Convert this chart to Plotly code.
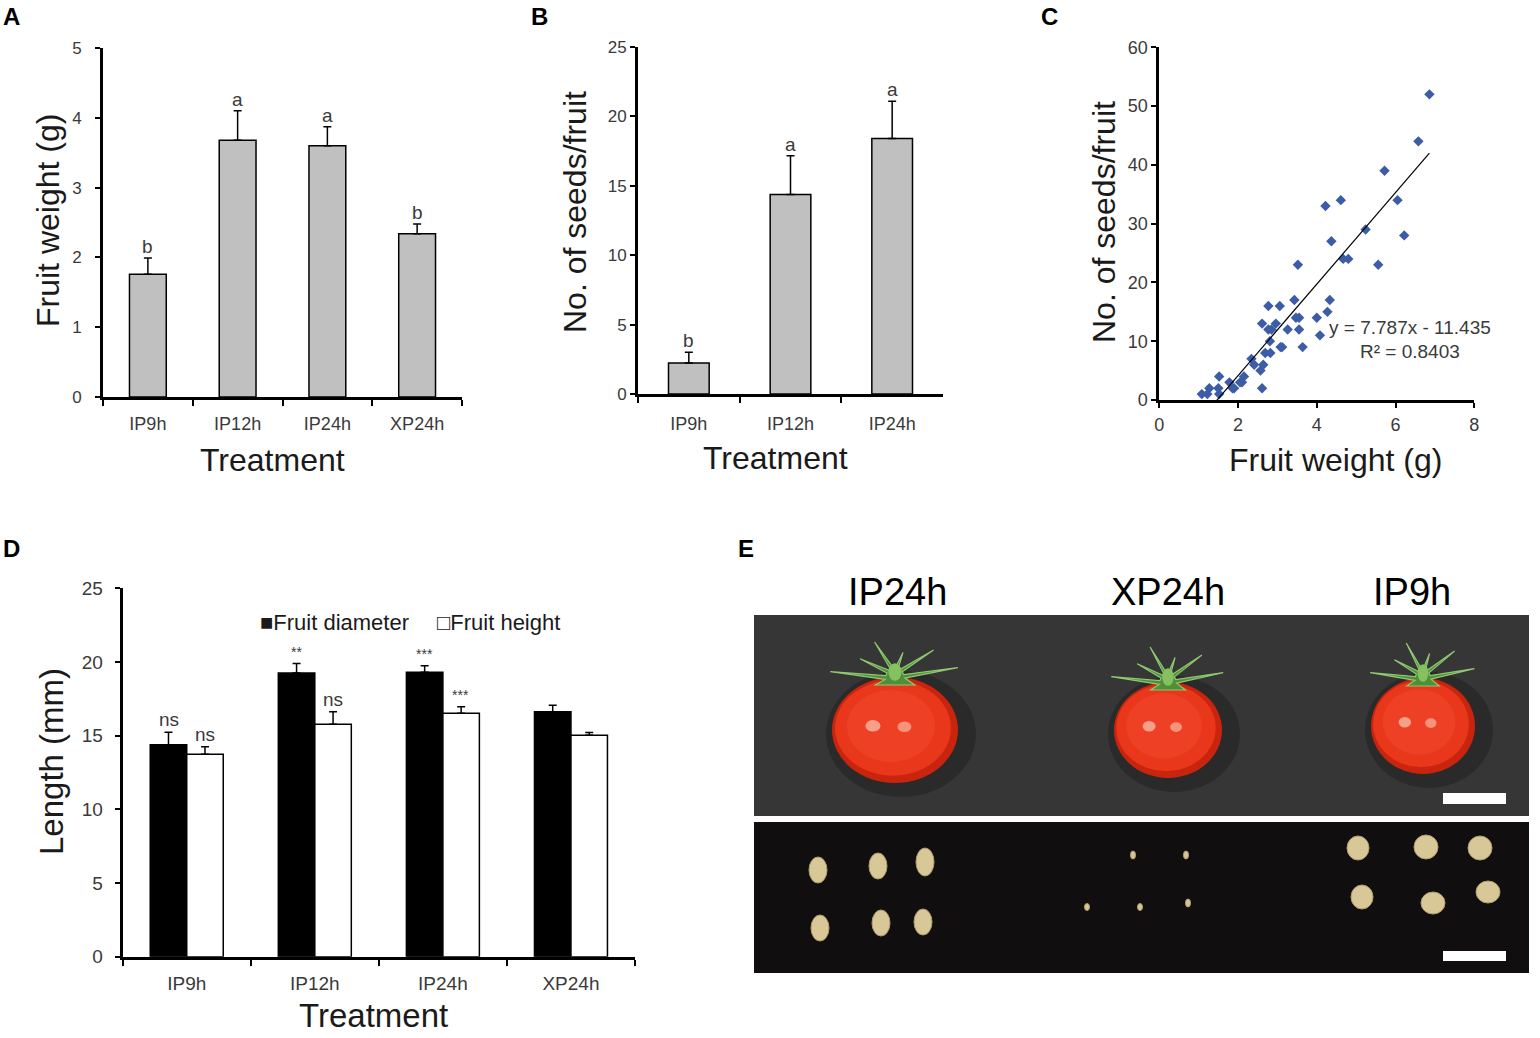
import math
import plotly.graph_objects as go

# ---------------- data ----------------
cats_A = ["IP9h", "IP12h", "IP24h", "XP24h"]
weight_mean = [1.76, 3.68, 3.60, 2.34]
weight_err = [0.23, 0.42, 0.27, 0.14]
weight_letters = ["b", "a", "a", "b"]

cats_B = ["IP9h", "IP12h", "IP24h"]
seeds_mean = [2.23, 14.38, 18.41]
seeds_err = [0.77, 2.78, 2.68]
seeds_letters = ["b", "a", "a"]

scatter_weight = [1.08, 1.22, 1.27, 1.52, 1.50, 1.52, 1.78, 1.86, 1.90, 2.05, 2.10, 2.15,
                  2.34, 2.41, 2.57, 2.61, 2.64, 2.61, 2.69, 2.82, 2.81, 2.77, 2.85, 2.77,
                  3.06, 2.96, 3.08, 3.12, 3.26, 3.43, 3.47, 3.55, 3.55, 3.64, 3.52, 4.00,
                  4.08, 4.27, 4.33, 4.22, 4.37, 4.61, 4.67, 4.80, 5.24, 5.56, 5.72, 6.05,
                  6.22, 6.58, 6.86]
scatter_seeds = [1, 1, 2, 1, 2, 4, 3, 2, 2, 3, 3, 4,
                 7, 6, 5, 2, 6, 13, 8, 8, 10, 12, 12, 16,
                 16, 13, 9, 9, 12, 17, 14, 14, 12, 9, 23, 14,
                 11, 15, 17, 33, 27, 34, 24, 24, 29, 23, 39, 34,
                 28, 44, 52]
fit_slope = 7.787
fit_intercept = -11.435
fit_text = ["y = 7.787x - 11.435", "R\u00b2 = 0.8403"]

cats_D = ["IP9h", "IP12h", "IP24h", "XP24h"]
series_D = ["Fruit diameter", "Fruit height"]
diam_mean = [14.39, 19.25, 19.30, 16.63]
diam_err = [0.84, 0.64, 0.45, 0.43]
height_mean = [13.73, 15.77, 16.52, 15.02]
height_err = [0.52, 0.86, 0.45, 0.20]
diam_sig = ["ns", "**", "***", ""]
height_sig = ["ns", "ns", "***", ""]

titles_x = ["Treatment", "Treatment", "Fruit weight (g)", "Treatment"]
titles_y = ["Fruit weight (g)", "No. of seeds/fruit", "No. of seeds/fruit", "Length (mm)"]
photo_labels = ["IP24h", "XP24h", "IP9h"]

# ---------------- placement helpers ----------------
W, H = 1540, 1038
# the captured picture places the page at (AX, AY) scaled by (SX, SY); positions below are
# given in picture pixels and converted to page pixels
AX, AY = 5.0, 10.0
SX, SY = 1530.0 / 1540.0, 1017.0 / 1038.0
FONT = "Liberation Sans, Arial, sans-serif"
TICKC = "#3a3a3a"
TITLEC = "#1a1a1a"


def px(X):
    return ((X - AX) / SX) / W


def py(Y):
    return 1 - ((Y - AY) / SY) / H


def xd(a, b):
    return [px(a), px(b)]


def yd(top, bottom):
    return [py(bottom), py(top)]


def axis_common(**kw):
    d = dict(showline=True, linecolor="black", linewidth=3, showgrid=False,
             zeroline=False, ticks="outside", tickcolor="black", tickwidth=2,
             ticklen=5, tickfont=dict(family=FONT, size=17, color=TICKC))
    d.update(kw)
    return d


def err(arr):
    return dict(type="data", array=arr, arrayminus=[0] * len(arr), symmetric=False,
                color="black", thickness=1.5, width=4, visible=True)


fig = go.Figure()

# ---------------- Panel A ----------------
fig.add_trace(go.Bar(x=cats_A, y=weight_mean, error_y=err(weight_err), width=0.41,
                     marker=dict(color="#c0c0c0", line=dict(color="black", width=1.5)),
                     xaxis="x", yaxis="y", showlegend=False))
# ---------------- Panel B ----------------
fig.add_trace(go.Bar(x=cats_B, y=seeds_mean, error_y=err(seeds_err), width=0.40,
                     marker=dict(color="#c0c0c0", line=dict(color="black", width=1.5)),
                     xaxis="x2", yaxis="y2", showlegend=False))
# ---------------- Panel C ----------------
fig.add_trace(go.Scatter(x=scatter_weight, y=scatter_seeds, mode="markers",
                         marker=dict(symbol="diamond", size=8, color="#3d5ca8"),
                         xaxis="x3", yaxis="y3", showlegend=False, cliponaxis=False))
fx = [min(scatter_weight), max(scatter_weight)]
fig.add_trace(go.Scatter(x=fx, y=[fit_slope * v + fit_intercept for v in fx], mode="lines",
                         line=dict(color="black", width=1.2),
                         xaxis="x3", yaxis="y3", showlegend=False))
# ---------------- Panel D ----------------
fig.add_trace(go.Bar(name=series_D[0], x=cats_D, y=diam_mean, error_y=err(diam_err),
                     marker=dict(color="black", line=dict(color="black", width=1.5)),
                     xaxis="x4", yaxis="y4", showlegend=False))
fig.add_trace(go.Bar(name=series_D[1], x=cats_D, y=height_mean, error_y=err(height_err),
                     marker=dict(color="white", line=dict(color="black", width=1.5)),
                     xaxis="x4", yaxis="y4", showlegend=False))

annotations = []
for c, m, e, t in zip(cats_A, weight_mean, weight_err, weight_letters):
    annotations.append(dict(x=c, y=m + e, xref="x", yref="y", text=t, showarrow=False,
                            yanchor="bottom", yshift=-1,
                            font=dict(family=FONT, size=19, color=TICKC)))
for c, m, e, t in zip(cats_B, seeds_mean, seeds_err, seeds_letters):
    annotations.append(dict(x=c, y=m + e, xref="x2", yref="y2", text=t, showarrow=False,
                            yanchor="bottom", yshift=-1,
                            font=dict(family=FONT, size=19, color=TICKC)))
for c, m, e, t in zip(cats_D, diam_mean, diam_err, diam_sig):
    if t:
        annotations.append(dict(x=c, y=m + e, xref="x4", yref="y4", text=t, showarrow=False,
                                yanchor="bottom", xshift=-18, yshift=0 if t == "ns" else 2,
                                font=dict(family=FONT, size=19 if t == "ns" else 14, color=TICKC)))
for c, m, e, t in zip(cats_D, height_mean, height_err, height_sig):
    if t:
        annotations.append(dict(x=c, y=m + e, xref="x4", yref="y4", text=t, showarrow=False,
                                yanchor="bottom", xshift=18, yshift=0 if t == "ns" else 2,
                                font=dict(family=FONT, size=19 if t == "ns" else 14, color=TICKC)))

# axis titles (placed like the reference, slightly off-centre as in the original)
xt_pos = [(272, 460), (775, 458), (1335, 460), (374, 1015)]
yt_pos = [(48, 220), (575, 212), (1104, 222), (52, 762)]
for i, (t, (tx, ty)) in enumerate(zip(titles_x, xt_pos)):
    annotations.append(dict(x=px(tx), y=py(ty), xref="paper", yref="paper", text=t,
                            showarrow=False, xanchor="center", yanchor="middle",
                            font=dict(family=FONT, size=33 if i == 3 else 32, color=TITLEC)))
for i, (t, (tx, ty)) in enumerate(zip(titles_y, yt_pos)):
    annotations.append(dict(x=px(tx), y=py(ty), xref="paper", yref="paper", text=t,
                            showarrow=False, xanchor="center", yanchor="middle", textangle=-90,
                            font=dict(family=FONT, size=33 if i == 3 else 32, color=TITLEC)))

# legend of panel D drawn as text (filled / open squares)
annotations.append(dict(x=px(258), y=py(622), xref="paper", yref="paper",
                        text="\u25a0" + series_D[0], showarrow=False, xanchor="left", yanchor="middle",
                        font=dict(family=FONT, size=22, color=TITLEC)))
annotations.append(dict(x=px(435), y=py(622), xref="paper", yref="paper",
                        text="\u25a1" + series_D[1], showarrow=False, xanchor="left", yanchor="middle",
                        font=dict(family=FONT, size=22, color=TITLEC)))
# regression text of panel C
annotations.append(dict(x=px(1410), y=py(328), xref="paper", yref="paper", text=fit_text[0],
                        showarrow=False, xanchor="center", yanchor="middle",
                        font=dict(family=FONT, size=19, color=TICKC)))
annotations.append(dict(x=px(1410), y=py(351), xref="paper", yref="paper", text=fit_text[1],
                        showarrow=False, xanchor="center", yanchor="middle",
                        font=dict(family=FONT, size=19, color=TICKC)))

# panel letters
for lab, lx, ly in [("A", 11, 17), ("B", 539, 17), ("C", 1050, 17), ("D", 11, 548), ("E", 746, 548)]:
    annotations.append(dict(x=px(lx), y=py(ly), xref="paper", yref="paper", text="<b>%s</b>" % lab,
                            showarrow=False, xanchor="center", yanchor="middle",
                            font=dict(family=FONT, size=24, color="black")))

# photo labels
for lab, lx in zip(photo_labels, [897, 1168, 1412]):
    annotations.append(dict(x=lx, y=592, xref="x5", yref="y5", text=lab, showarrow=False,
                            xanchor="center", yanchor="middle",
                            font=dict(family=FONT, size=38, color="black")))

# ---------------- Panel E (photo illustration) ----------------
shapes = []


def rect(x0, y0, x1, y1, color, **kw):
    d = dict(type="rect", xref="x5", yref="y5", x0=x0, y0=y0, x1=x1, y1=y1,
             fillcolor=color, line=dict(width=0), layer="above")
    d.update(kw)
    shapes.append(d)


def ell(cx, cy, rx, ry, color, opacity=1.0, line=None):
    shapes.append(dict(type="circle", xref="x5", yref="y5", x0=cx - rx, y0=cy - ry,
                       x1=cx + rx, y1=cy + ry, fillcolor=color, opacity=opacity,
                       line=line or dict(width=0), layer="above"))


def sepals(cx, cy, span, rise):
    pts = []
    lobes = [(-168, 1.0), (-135, 0.75), (-108, 1.0), (-80, 0.7), (-52, 0.95), (-18, 1.0)]
    for ang, f in lobes:
        a = math.radians(ang)
        b1 = math.radians(ang - 9)
        b2 = math.radians(ang + 9)
        pts.append((cx + 0.15 * span * math.cos(b1), cy + 0.3 * rise * math.sin(b1)))
        pts.append((cx + f * span * math.cos(a), cy + f * rise * math.sin(a)))
        pts.append((cx + 0.15 * span * math.cos(b2), cy + 0.3 * rise * math.sin(b2)))
    pts.append((cx + 0.3 * span, cy + 5))
    pts.append((cx - 0.3 * span, cy + 5))
    path = "M " + " L ".join("%.1f,%.1f" % p for p in pts) + " Z"
    shapes.append(dict(type="path", xref="x5", yref="y5", path=path, fillcolor="#4f8f3a",
                       line=dict(color="#8fc870", width=1.2), layer="above"))
    ell(cx, cy - 0.2 * rise, 0.1 * span, 0.22 * rise, "#86c060")


# photo backgrounds
rect(754, 615, 1529, 816, "#363636")
rect(754, 822, 1529, 973, "#100e0e")

tomatoes = [(895, 730, 63, 53, 66), (1168, 730, 54, 48, 58), (1423, 726, 52, 48, 54)]
for cx, cy, rx, ry, sp in tomatoes:
    ell(cx + 6, cy + 4, rx + 12, ry + 10, "black", opacity=0.22)
    ell(cx, cy, rx, ry, "#c9240e")
    ell(cx - 2, cy - 2, rx * 0.92, ry * 0.9, "#e8371a")
    ell(cx - 4, cy - 4, rx * 0.7, ry * 0.68, "#f0442a", opacity=0.7)
    ell(cx - rx * 0.35, cy - ry * 0.08, rx * 0.12, ry * 0.11, "#f8b7a3", opacity=0.8)
    ell(cx + rx * 0.15, cy - ry * 0.06, rx * 0.11, ry * 0.1, "#f8b7a3", opacity=0.7)
    sepals(cx, cy - ry + 3, sp, 40)

# scale bars
rect(1443, 793, 1506, 804, "white")
rect(1443, 951, 1506, 961, "white")

# seeds
big_seeds = [(818, 870, 9, 13), (878, 866, 9, 13), (925, 862, 9, 14),
             (820, 928, 9, 13), (881, 923, 9, 13), (923, 922, 9, 13)]
small_seeds = [(1133, 855, 2.5, 4), (1186, 855, 2.5, 4), (1087, 907, 2.5, 3.5),
               (1140, 907, 2.5, 3.5), (1188, 903, 2.5, 4)]
ip9_seeds = [(1358, 848, 11, 12), (1426, 847, 12, 12), (1480, 848, 12, 12),
             (1362, 897, 11, 12), (1433, 903, 12, 11), (1488, 892, 12, 11)]
for cx, cy, rx, ry in big_seeds + small_seeds + ip9_seeds:
    ell(cx, cy, rx, ry, "#d8c898", line=dict(color="#b09c6c", width=1))

# ---------------- layout ----------------
fig.update_layout(
    width=W, height=H, autosize=False,
    margin=dict(l=0, r=0, t=0, b=0, pad=0),
    paper_bgcolor="white", plot_bgcolor="rgba(0,0,0,0)",
    barmode="group", bargap=0.43, bargroupgap=0,
    font=dict(family=FONT, color=TICKC),
    showlegend=False,
    xaxis=axis_common(domain=xd(103, 462), anchor="y", tickson="boundaries", ticklen=6,
                      ticklabelstandoff=8, tickfont=dict(family=FONT, size=18, color=TICKC),
                      range=[-0.5, 3.5]),
    yaxis=axis_common(domain=yd(48, 397), anchor="x", range=[0, 5], dtick=1,
                      ticklabelstandoff=10),
    xaxis2=axis_common(domain=xd(638, 943), anchor="y2", tickson="boundaries", ticklen=6,
                       ticklabelstandoff=11, tickfont=dict(family=FONT, size=18, color=TICKC),
                       range=[-0.5, 2.5]),
    yaxis2=axis_common(domain=yd(47, 394), anchor="x2", range=[0, 25], dtick=5,
                       ticklabelstandoff=0),
    xaxis3=axis_common(domain=xd(1159.3, 1474.3), anchor="y3", range=[0, 8], dtick=2,
                       ticklabelstandoff=1, tickfont=dict(family=FONT, size=18, color=TICKC)),
    yaxis3=axis_common(domain=yd(47.3, 400), anchor="x3", range=[0, 60], dtick=10,
                       ticklabelstandoff=0, tickfont=dict(family=FONT, size=18, color=TICKC)),
    xaxis4=axis_common(domain=xd(122.7, 635), anchor="y4", tickson="boundaries", ticklen=6,
                       ticklabelstandoff=7, tickfont=dict(family=FONT, size=19, color=TICKC),
                       range=[-0.5, 3.5]),
    yaxis4=axis_common(domain=yd(588.3, 956.7), anchor="x4", range=[0, 25], dtick=5,
                       ticklabelstandoff=8, tickfont=dict(family=FONT, size=19, color=TICKC)),
    xaxis5=dict(domain=[0, 1], range=[AX, AX + SX * W], visible=False, anchor="y5", fixedrange=True),
    yaxis5=dict(domain=[0, 1], range=[AY + SY * H, AY], visible=False, anchor="x5", fixedrange=True),
    annotations=annotations,
    shapes=shapes,
)

fig.write_html("out.html", config={"displayModeBar": False},
               post_script=("document.documentElement.style.margin='0';"
                            "document.documentElement.style.overflow='hidden';"
                            "document.body.style.margin='0';document.body.style.padding='0';"
                            "document.body.style.overflow='hidden';"))
